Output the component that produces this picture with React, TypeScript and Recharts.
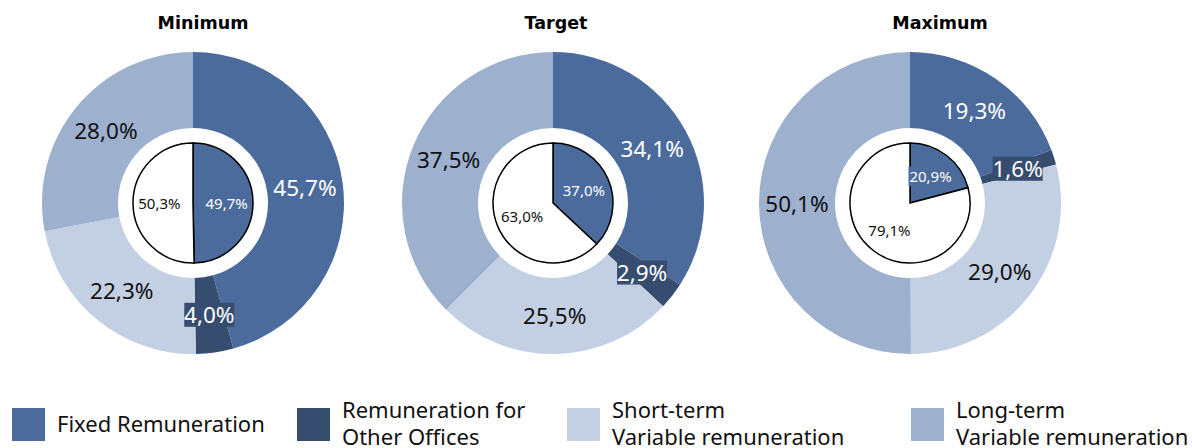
import { PieChart, Pie, Cell } from 'recharts'

const CATEGORIES = [
  'Fixed Remuneration',
  'Remuneration for Other Offices',
  'Short-term Variable remuneration',
  'Long-term Variable remuneration',
]
const LEGEND_LINES = [
  ['Fixed Remuneration'],
  ['Remuneration for', 'Other Offices'],
  ['Short-term', 'Variable remuneration'],
  ['Long-term', 'Variable remuneration'],
]
const SCENARIOS = ['Minimum', 'Target', 'Maximum']
const MINIMUM_VALUES = [45.7, 4.0, 22.3, 28.0]
const TARGET_VALUES = [34.1, 2.9, 25.5, 37.5]
const MAXIMUM_VALUES = [19.3, 1.6, 29.0, 50.1]
const INNER_NAMES = ['Fixed', 'Variable']
const MINIMUM_INNER = [49.7, 50.3]
const TARGET_INNER = [37.0, 63.0]
const MAXIMUM_INNER = [20.9, 79.1]

const COLORS = ['#4a6b9b', '#364d70', '#c3cfe2', '#9db0ce']
const INNER_COLORS = ['#4a6b9b', '#ffffff']
const FONT = '"Noto Sans", "Open Sans", sans-serif'
const RAD = Math.PI / 180

const fmt = (v: number) => v.toFixed(1).replace('.', ',') + '%'

const outerData = [MINIMUM_VALUES, TARGET_VALUES, MAXIMUM_VALUES].map((vals) =>
  vals.map((v, i) => ({ name: CATEGORIES[i], value: v })),
)
const innerData = [MINIMUM_INNER, TARGET_INNER, MAXIMUM_INNER].map((vals) =>
  vals.map((v, i) => ({ name: INNER_NAMES[i], value: v })),
)

const CENTERS = [193, 553, 910]
const CY = 203
const TITLE_X = [203, 556, 940]
const LEGEND_X = [12, 297, 567, 911]

function outerLabel(props: any) {
  const { cx, cy, midAngle, innerRadius, outerRadius, index, value } = props
  const r = (innerRadius + outerRadius) / 2
  const x = cx + r * Math.cos(-midAngle * RAD)
  const y = cy + r * Math.sin(-midAngle * RAD)
  const text = fmt(value)
  const boxed = index === 1
  const w = text.length * 12 + 2
  return (
    <g key={'o' + index}>
      {boxed && <rect x={x - w / 2} y={y - 12} width={w} height={24} fill={COLORS[1]} />}
      <text
        x={x}
        y={y}
        textAnchor="middle"
        dominantBaseline="central"
        fontFamily={FONT}
        fontSize={22.5}
        fill={index <= 1 ? '#ffffff' : '#111111'}
      >
        {text}
      </text>
    </g>
  )
}

function innerLabel(props: any) {
  const { cx, cy, midAngle, outerRadius, index, value } = props
  const r = outerRadius * 0.56
  const x = cx + r * Math.cos(-midAngle * RAD)
  const y = cy + r * Math.sin(-midAngle * RAD)
  const text = fmt(value)
  const boxed = index === 0 && value < 25
  const w = text.length * 8 + 4
  return (
    <g key={'i' + index}>
      {boxed && <rect x={x - w / 2} y={y - 10} width={w} height={20} fill={COLORS[0]} />}
      <text
        x={x}
        y={y}
        textAnchor="middle"
        dominantBaseline="central"
        fontFamily={FONT}
        fontSize={15}
        fill={index === 0 ? '#ffffff' : '#111111'}
      >
        {text}
      </text>
    </g>
  )
}

export default function App() {
  return (
    <div style={{ position: 'fixed', left: 0, top: 0, width: 1192, height: 448, background: '#fff', overflow: 'hidden' }}>
      <PieChart width={1192} height={448} margin={{ top: 0, right: 0, bottom: 0, left: 0 }}>
        {outerData.map((d, k) => (
          <Pie
            key={'outer' + k}
            data={d}
            dataKey="value"
            nameKey="name"
            cx={CENTERS[k]}
            cy={CY}
            innerRadius={75}
            outerRadius={151}
            startAngle={90}
            endAngle={-270}
            stroke="none"
            label={outerLabel}
            labelLine={false}
            isAnimationActive={false}
          >
            {d.map((_, i) => <Cell key={i} fill={COLORS[i]} />)}
          </Pie>
        ))}
        {innerData.map((d, k) => (
          <Pie
            key={'inner' + k}
            data={d}
            dataKey="value"
            nameKey="name"
            cx={CENTERS[k]}
            cy={CY}
            innerRadius={0}
            outerRadius={60}
            startAngle={90}
            endAngle={-270}
            stroke="#000"
            strokeWidth={1.5}
            label={innerLabel}
            labelLine={false}
            isAnimationActive={false}
          >
            {d.map((_, i) => <Cell key={i} fill={INNER_COLORS[i]} />)}
          </Pie>
        ))}
      </PieChart>
      {SCENARIOS.map((s, k) => (
        <div
          key={s}
          style={{
            position: 'absolute',
            left: TITLE_X[k] - 80,
            width: 160,
            top: 13,
            textAlign: 'center',
            fontFamily: '"DejaVu Sans", sans-serif',
            fontWeight: 'bold',
            fontSize: 17.5,
            color: '#000',
          }}
        >
          {s}
        </div>
      ))}
      {LEGEND_LINES.map((lines, i) => (
        <div key={i}>
          <div
            style={{
              position: 'absolute',
              left: LEGEND_X[i],
              top: 408,
              width: 33,
              height: 33,
              background: COLORS[i],
            }}
          />
          <div
            style={{
              position: 'absolute',
              left: LEGEND_X[i] + 45,
              top: lines.length === 1 ? 410 : 396,
              fontFamily: FONT,
              fontSize: 22,
              lineHeight: '27px',
              color: '#111',
              whiteSpace: 'nowrap',
            }}
          >
            {lines.map((l, j) => (
              <div key={j}>{l}</div>
            ))}
          </div>
        </div>
      ))}
    </div>
  )
}
